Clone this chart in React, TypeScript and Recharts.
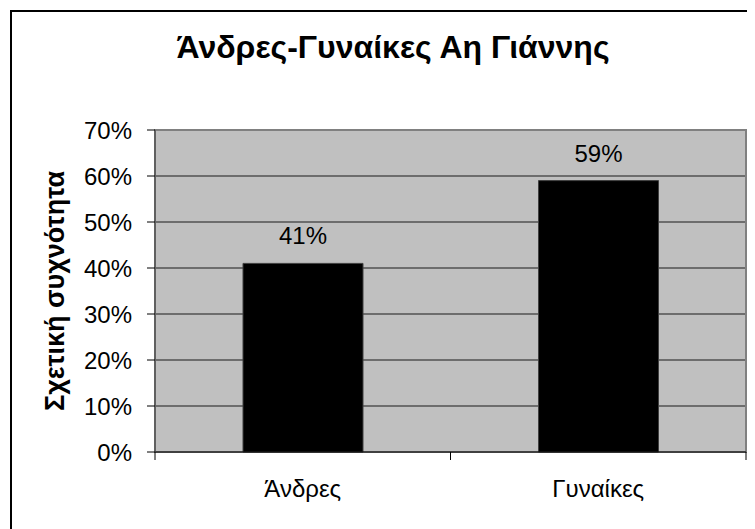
import { BarChart, Bar, XAxis, YAxis, CartesianGrid, ReferenceArea, LabelList } from 'recharts';

const categories = ['Άνδρες', 'Γυναίκες'];
const shares = [0.41, 0.59];
const yTicks = [0, 0.1, 0.2, 0.3, 0.4, 0.5, 0.6, 0.7];

const data = categories.map((name, i) => ({ name, value: shares[i] }));

const pct = (v: number) => `${Math.round(v * 100)}%`;

const X_TICK_SIZE = 8;
const X_TICK_MARGIN = 20;

const XTick = (props: any) => {
  const { x, y, payload, width, visibleTicksCount, index } = props;
  const half = (width || 591) / (visibleTicksCount || 2) / 2;
  const axisY = y - X_TICK_SIZE - X_TICK_MARGIN;
  return (
    <g>
      <line x1={x - half} x2={x - half} y1={axisY} y2={axisY + X_TICK_SIZE} stroke="#000" />
      {index === visibleTicksCount - 1 && (
        <line x1={x + half} x2={x + half} y1={axisY} y2={axisY + X_TICK_SIZE} stroke="#000" />
      )}
      <text x={x} y={y} dy={17} textAnchor="middle" fontSize={24} fill="#000"
        fontFamily="'Liberation Sans', Arial, sans-serif">
        {payload.value}
      </text>
    </g>
  );
};

export default function App() {
  return (
    <div style={{ position: 'relative', width: 747, height: 521, overflow: 'hidden', background: '#fff' }}>
      <div style={{ position: 'absolute', left: 2, top: 2, width: 800, height: 600, border: '2px solid #000' }} />
      <div style={{
        position: 'absolute', left: 0, width: 770, top: 21, textAlign: 'center',
        fontFamily: "'Liberation Sans', Arial, sans-serif", fontWeight: 'bold', fontSize: 32, lineHeight: 1.149,
      }}>
        Άνδρες-Γυναίκες Αη Γιάννης
      </div>
      <div style={{ position: 'absolute', left: 0, top: 0 }}>
        <BarChart width={747} height={521} data={data} margin={{ top: 122, right: 9, bottom: 0, left: 0 }}
          barCategoryGap={0}>
          <CartesianGrid vertical={false} horizontal stroke="#1a1a1a" fill="#C0C0C0" fillOpacity={1} />
          <XAxis dataKey="name" height={77} axisLine={{ stroke: '#000' }} tickLine={false}
            tickSize={X_TICK_SIZE} tickMargin={X_TICK_MARGIN} tick={<XTick />} interval={0} />
          <YAxis width={147} domain={[0, 0.7]} ticks={yTicks} tickFormatter={pct}
            axisLine={{ stroke: '#404040' }} tickLine={{ stroke: '#000' }} tickSize={8} tickMargin={15}
            tick={{ fontSize: 24, fill: '#000', fontFamily: "'Liberation Sans', Arial, sans-serif" }}
            label={{
              value: 'Σχετική συχνότητα', angle: -90, position: 'center', dx: -27,
              style: { fontSize: 27, fontWeight: 'bold', fill: '#000', fontFamily: "'Liberation Sans', Arial, sans-serif" },
            }} />
          <ReferenceArea y1={0} y2={0.7} fill="none" stroke="#808080" strokeWidth={2} ifOverflow="visible" />
          <Bar dataKey="value" fill="#000" stroke="#404040" barSize={120} isAnimationActive={false}>
            <LabelList dataKey="value" position="top" offset={19} formatter={(v: any) => pct(Number(v))}
              style={{ fontSize: 24, fill: '#000', fontFamily: "'Liberation Sans', Arial, sans-serif" }} />
          </Bar>
        </BarChart>
      </div>
    </div>
  );
}
